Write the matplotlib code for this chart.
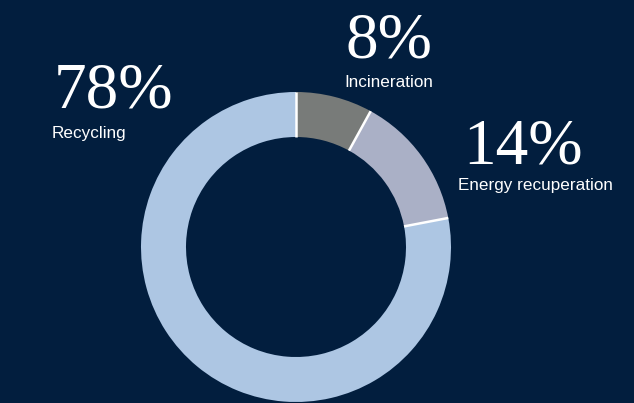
import matplotlib.pyplot as plt
import numpy as np

# shares of end-of-life treatment, clockwise from 12 o'clock
labels = ["Incineration", "Energy recuperation", "Recycling"]
shares = [8, 14, 78]
colors = ["#787b79", "#aab0c6", "#adc6e3"]

BG = "#021e3e"
W, H = 634, 403

fig = plt.figure(figsize=(W / 100, H / 100), dpi=100, facecolor=BG)
ax = fig.add_axes([0, 0, 1, 1])
ax.set_facecolor(BG)

cx, cy = 296, H - 247
r_out, r_in = 155, 110

ax.pie(shares, colors=colors, startangle=90, counterclock=False,
       center=(cx, cy), radius=r_out, frame=True,
       wedgeprops=dict(width=r_out - r_in, linewidth=0))
ax.set_xlim(0, W)
ax.set_ylim(0, H)
ax.set_aspect("equal")
ax.axis("off")

# white separators between slices
bounds = np.concatenate([[0], np.cumsum(shares)[:-1]]) / sum(shares)
for b in bounds:
    ang = np.deg2rad(90 - 360 * b)
    ax.plot([cx + r_in * np.cos(ang), cx + r_out * np.cos(ang)],
            [cy + r_in * np.sin(ang), cy + r_out * np.sin(ang)],
            color="white", lw=1.8, solid_capstyle="butt")

# label spots: (number x, number baseline, caption x, caption baseline)
spots = {"Recycling": (54, 107, 52, 138),
         "Incineration": (346, 58, 344, 87),
         "Energy recuperation": (463, 163, 458, 190)}
for name, val in zip(labels, shares):
    xn, yn, xc, yc = spots[name]
    ax.text(xn, H - yn, f"{val}%", color="white", fontsize=47,
            family="Liberation Serif", va="baseline", ha="left")
    ax.text(xc, H - yc, name, color="white", fontsize=12.3,
            family="Liberation Sans", va="baseline", ha="left")

fig.savefig("out.png", dpi=100, facecolor=BG)
